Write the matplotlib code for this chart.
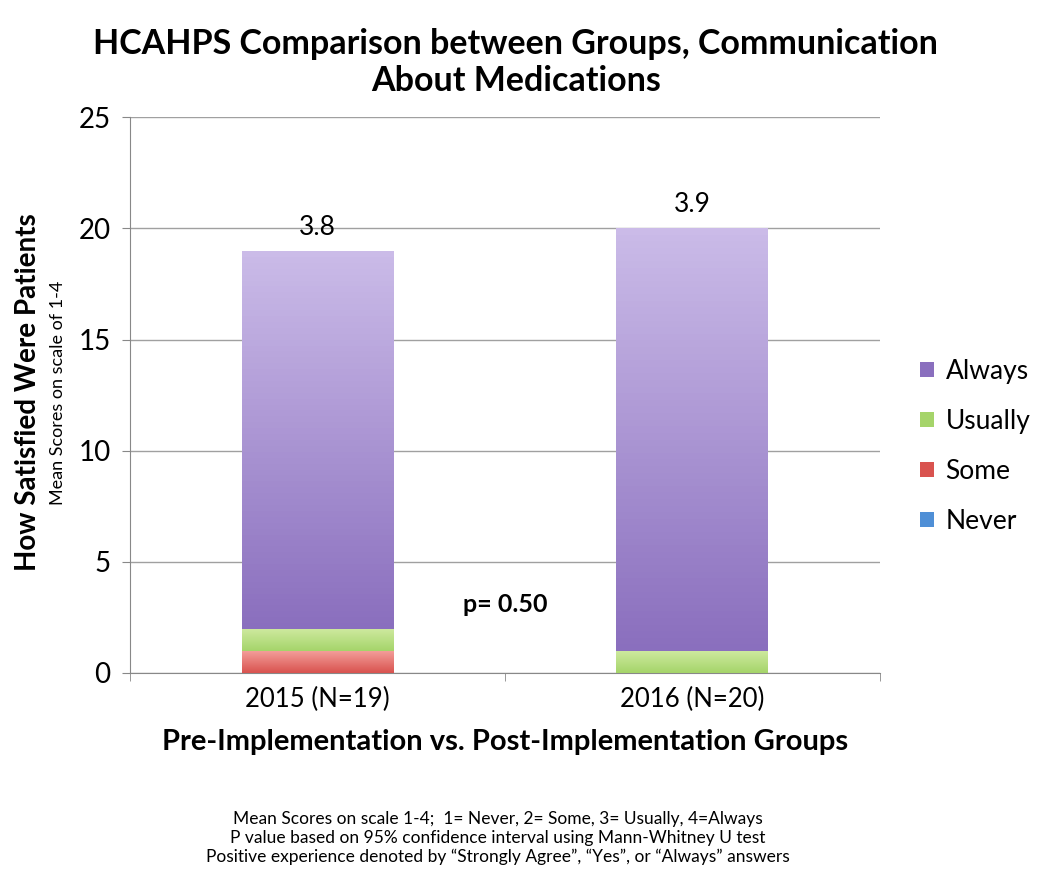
import matplotlib.pyplot as plt
import numpy as np
from matplotlib.colors import LinearSegmentedColormap

plt.rcParams['font.family'] = ['Lato', 'DejaVu Sans']

groups = ["2015 (N=19)", "2016 (N=20)"]
never = [0, 0]
some = [1, 0]
usually = [1, 1]
always = [17, 19]
means = ["3.8", "3.9"]
p_text = "p= 0.50"

# (light, dark) pairs for the gradient fill, top to bottom
colours = {
    "Never": ("#8fbfee", "#4f8fd6"),
    "Some": ("#f4a09c", "#d9534f"),
    "Usually": ("#cfeaa0", "#a5d46a"),
    "Always": ("#cbbbe8", "#8a6fbe"),
}

fig = plt.figure(figsize=(10.4, 8.82), dpi=100)
ax = fig.add_axes([0.125, 0.237, 0.721, 0.63])

x = np.arange(len(groups))
width = 0.405
bottom = np.zeros(len(groups))
handles = []
for name, vals in [("Never", never), ("Some", some), ("Usually", usually), ("Always", always)]:
    light, dark = colours[name]
    bars = ax.bar(x, vals, width, bottom=bottom, color=dark, edgecolor="none", label=name, zorder=2)
    cmap = LinearSegmentedColormap.from_list(name, [dark, light])
    for b in bars:
        if b.get_height() <= 0:
            continue
        x0, y0 = b.get_x(), b.get_y()
        grad = np.linspace(0, 1, 64).reshape(-1, 1)
        im = ax.imshow(grad, cmap=cmap, origin="lower", aspect="auto",
                       extent=[x0, x0 + b.get_width(), y0, y0 + b.get_height()], zorder=3)
        im.set_clip_path(b)
    handles.append(bars)
    bottom += np.array(vals)

for xi, top, lab in zip(x, bottom, means):
    ax.annotate(lab, (xi, top), xytext=(0, 8), textcoords="offset points",
                ha="center", va="bottom", fontsize=19)

ax.text(0.5, 3.1, p_text, ha="center", va="center", fontsize=18, fontweight="bold")

ax.set_xlim(-0.5, 1.5)
ax.set_ylim(0, 25)
ax.set_yticks(range(0, 26, 5))
ax.tick_params(axis="y", labelsize=20, length=6, color="#888888", pad=8)
ax.set_xticks(x)
ax.set_xticklabels(groups, fontsize=18.5)
ax.tick_params(axis="x", length=0, pad=10)
ax.set_xticks([-0.5, 0.5, 1.5], minor=True)
ax.tick_params(axis="x", which="minor", length=6, color="#888888")
ax.grid(axis="y", color="#a0a0a0", linewidth=1, zorder=0)
ax.set_axisbelow(True)
for s in ["top", "right"]:
    ax.spines[s].set_visible(False)
ax.spines["left"].set_color("#888888")
ax.spines["bottom"].set_color("#888888")

ax.set_xlabel("Pre-Implementation vs. Post-Implementation Groups", fontsize=21,
              fontweight="bold", labelpad=12)

fig.text(0.496, 0.968, "HCAHPS Comparison between Groups, Communication\nAbout Medications",
         ha="center", va="top", fontsize=24.5, fontweight="bold", linespacing=1.2)

fig.text(0.027, 0.555, "How Satisfied Were Patients", rotation=90, ha="center", va="center",
         fontsize=20, fontweight="bold")
fig.text(0.056, 0.555, "Mean Scores on scale of 1-4", rotation=90, ha="center", va="center",
         fontsize=13)

leg = ax.legend(handles[::-1], ["Never", "Some", "Usually", "Always"][::-1],
                loc="center left", bbox_to_anchor=(1.04, 0.408), frameon=False,
                fontsize=19, handlelength=0.5, handleheight=0.5, labelspacing=0.95,
                handletextpad=0.45, borderaxespad=0)

notes = ["Mean Scores on scale 1-4;  1= Never, 2= Some, 3= Usually, 4=Always",
         "P value based on 95% confidence interval using Mann-Whitney U test",
         "Positive experience denoted by \u201cStrongly Agree\u201d, \u201cYes\u201d, or \u201cAlways\u201d answers"]
fig.text(0.479, 0.05, "\n".join(notes), ha="center", va="center", fontsize=12.5, linespacing=1.2)

fig.savefig("out.png", dpi=100, facecolor="white")
